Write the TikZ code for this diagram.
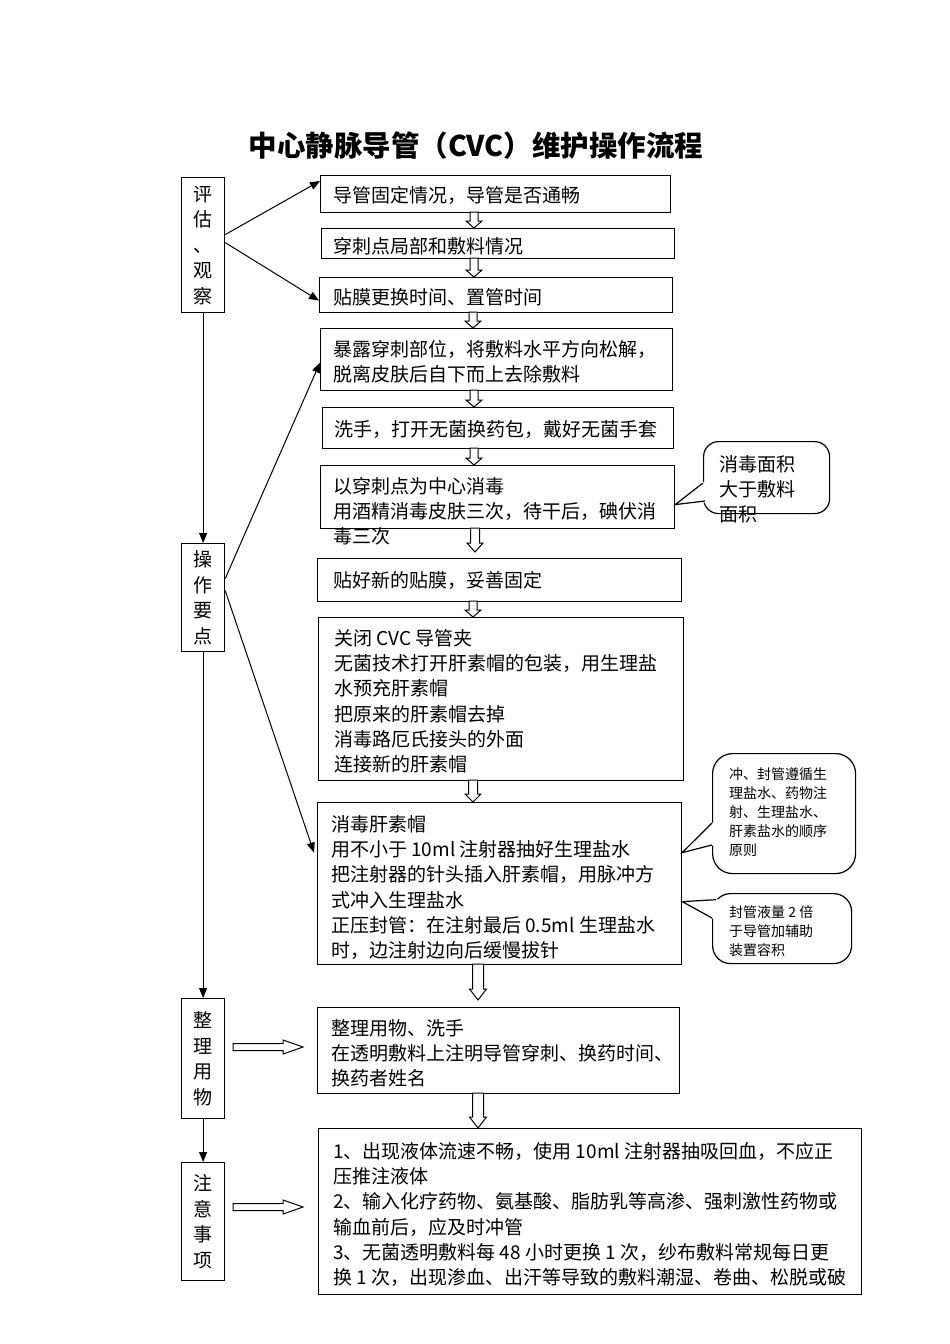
\documentclass[tikz,border=0pt]{standalone}
\usepackage{fontspec}
\setmainfont{Noto Sans CJK SC}
\usetikzlibrary{arrows.meta}
\tikzset{
 box/.style={draw, line width=1.2pt, inner sep=0pt, anchor=north west},
 lbox/.style={draw, line width=1.2pt, inner sep=0pt, anchor=north west, minimum width=43pt, align=center, font=\fontsize{19pt}{25.5pt}\selectfont},
 txt/.style={inner sep=0pt, anchor=north west, align=left, font=\fontsize{19pt}{25.3pt}\selectfont},
 stxt/.style={inner sep=0pt, anchor=north west, align=left, font=\fontsize{14pt}{19.2pt}\selectfont},
 arr/.style={line width=1pt, -{Triangle[length=10pt,width=8pt]}},
 callout/.style={draw, line width=1.2pt, inner sep=0pt, anchor=north west},
 hollow/.style={draw, line width=1pt, fill=white},
 wedge/.style={line width=1.2pt},
}
% vertical hollow arrow: x, ytop, ybot, shaft half, head half, head length
\newcommand\vholl[6]{\draw[hollow] ({#1-#4},#2) -- ({#1-#4},{#3-#6}) -- ({#1-#5},{#3-#6}) -- (#1,#3) -- ({#1+#5},{#3-#6}) -- ({#1+#4},{#3-#6}) -- ({#1+#4},#2) -- cycle;}
% horizontal hollow arrow: y, xleft, xright, shaft half, head half, head length
\newcommand\hholl[6]{\draw[hollow] (#2,{#1-#4}) -- ({#3-#6},{#1-#4}) -- ({#3-#6},{#1-#5}) -- (#3,#1) -- ({#3-#6},{#1+#5}) -- ({#3-#6},{#1+#4}) -- (#2,{#1+#4}) -- cycle;}
\begin{document}
\begin{tikzpicture}[x=1pt,y=-1pt]
\fill[white] (0,0) rectangle (950,1344);
\useasboundingbox (0,0) rectangle (950,1344);

% title
\node[font=\fontsize{28.5pt}{32pt}\selectfont\bfseries] (title) at (476,146) {中心静脉导管（CVC）维护操作流程};

% left column
\node[lbox, minimum height=135pt] (l1) at (181,177) {评\\估\\、\\观\\察};
\node[lbox, minimum height=108pt] (l2) at (181,543) {操\\作\\要\\点};
\node[lbox, minimum height=120pt] (l3) at (181,998) {整\\理\\用\\物};
\node[lbox, minimum height=118pt] (l4) at (181,1162) {注\\意\\事\\项};

% right boxes
\node[box, minimum width=350pt, minimum height=37pt] (b1) at (320,175) {};
\node[box, minimum width=353pt, minimum height=30pt] (b2) at (321,228) {};
\node[box, minimum width=353pt, minimum height=35pt] (b3) at (319,277) {};
\node[box, minimum width=352pt, minimum height=62pt] (b4) at (320,328) {};
\node[box, minimum width=351pt, minimum height=41pt] (b5) at (322,407) {};
\node[box, minimum width=354pt, minimum height=63pt] (b6) at (320,465) {};
\node[box, minimum width=364pt, minimum height=43pt] (b7) at (317,558) {};
\node[box, minimum width=365pt, minimum height=163pt] (b8) at (318,617) {};
\node[box, minimum width=364pt, minimum height=162pt] (b9) at (317,802) {};
\node[box, minimum width=362pt, minimum height=86pt] (b10) at (317,1007) {};
\node[box, minimum width=543pt, minimum height=166pt] (b11) at (318,1128) {};

% hollow arrows between boxes
\vholl{474}{212}{228}{4}{8}{7}
\vholl{474}{258}{277}{4}{8}{7}
\vholl{473}{312}{328}{4}{8}{7}
\vholl{474}{390}{407}{4}{8}{7}
\vholl{474}{448}{465}{4}{8}{7}
\vholl{475}{528}{552}{4.5}{8}{9}
\vholl{473}{601}{617}{4}{8}{7}
\vholl{473}{780}{802}{4.5}{8}{8}
\vholl{478}{964}{1000}{5.5}{8.5}{11}
\vholl{478}{1093}{1128}{5.5}{8.5}{11}
\hholl{1047}{233}{303}{3.5}{7}{20}
\hholl{1207}{233}{303}{3.5}{7}{20}

% line connectors
\draw[arr] (l1.south) -- (l2.north);
\draw[arr] (l2.south) -- (l3.north);
\draw[arr] (l3.south) -- (l4.north);
\draw[arr] ([yshift=10.5pt]l1.east) -- ([yshift=-6pt]b1.north west);
\draw[arr] ([yshift=2.5pt]l1.east) -- ([yshift=-5.5pt]b3.west);
\draw[arr] ([yshift=19pt]l2.east) -- ([yshift=-3pt]b4.west);
\draw[arr] ([yshift=7pt]l2.east) -- ([xshift=-3pt,yshift=31pt]b9.west);

% callouts
\node[callout, rounded corners=15pt, minimum width=126pt, minimum height=72pt] (c1) at (703,441) {};
\coordinate (p1) at ([yshift=-7.5pt]b6.east);
\coordinate (q1a) at (703,483);
\coordinate (q1b) at (705,501);
\fill[white] (p1) -- (703,482) -- (712,482) -- (712,502.5) -- (705,502.5) -- cycle;
\draw[wedge] (q1a) -- (p1) -- (q1b);

\node[callout, rounded corners=20pt, minimum width=143pt, minimum height=120pt] (c2) at (712,753) {};
\coordinate (p2) at ([yshift=31pt]b9.east);
\coordinate (q2a) at (712,823);
\coordinate (q2b) at (712,845);
\fill[white] (p2) -- (712,822.5) -- (717,822.5) -- (717,845.5) -- (712,845.5) -- cycle;
\draw[wedge] (q2a) -- (p2) -- (q2b);

\node[callout, rounded corners=18pt, minimum width=139pt, minimum height=70pt] (c3) at (712,893) {};
\coordinate (p3) at ([yshift=-18pt]b9.east);
\coordinate (q3a) at (716,899.7);
\coordinate (q3b) at (712,918);
\fill[white] (p3) -- (716,899.4) -- (720,899.4) -- (720,918.5) -- (712,918.5) -- cycle;
\draw[wedge] (q3a) -- (p3) -- (q3b);

% texts
\node[txt] (t1) at (333,186) {导管固定情况，导管是否通畅};
\node[txt] (t2) at (333,237) {穿刺点局部和敷料情况};
\node[txt] (t3) at (333,288) {贴膜更换时间、置管时间};
\node[txt] (t4) at (333,340) {暴露穿刺部位，将敷料水平方向松解，\\脱离皮肤后自下而上去除敷料};
\node[txt] (t5) at (334,420) {洗手，打开无菌换药包，戴好无菌手套};
\node[txt] (t6) at (333,477) {以穿刺点为中心消毒\\用酒精消毒皮肤三次，待干后，碘伏消\\毒三次};
\node[txt] (t7) at (333,571) {贴好新的贴膜，妥善固定};
\node[txt] (t8) at (334,629) {关闭 CVC 导管夹\\无菌技术打开肝素帽的包装，用生理盐\\水预充肝素帽\\把原来的肝素帽去掉\\消毒路厄氏接头的外面\\连接新的肝素帽};
\node[txt] (t9) at (331,815) {消毒肝素帽\\用不小于 10ml 注射器抽好生理盐水\\把注射器的针头插入肝素帽，用脉冲方\\式冲入生理盐水\\正压封管：在注射最后 0.5ml 生理盐水\\时，边注射边向后缓慢拔针};
\node[txt] (t10) at (331,1019) {整理用物、洗手\\在透明敷料上注明导管穿刺、换药时间、\\换药者姓名};
\node[txt] (t11) at (333,1142) {1、出现液体流速不畅，使用 10ml 注射器抽吸回血，不应正\\压推注液体\\2、输入化疗药物、氨基酸、脂肪乳等高渗、强刺激性药物或\\输血前后，应及时冲管\\3、无菌透明敷料每 48 小时更换 1 次，纱布敷料常规每日更\\换 1 次，出现渗血、出汗等导致的敷料潮湿、卷曲、松脱或破};
\node[txt, font=\fontsize{19pt}{25pt}\selectfont] (tc1) at (719,455) {消毒面积\\大于敷料\\面积};
\node[stxt] (tc2) at (729,767) {冲、封管遵循生\\理盐水、药物注\\射、生理盐水、\\肝素盐水的顺序\\原则};
\node[stxt, font=\fontsize{14pt}{19pt}\selectfont] (tc3) at (729,905) {封管液量 2 倍\\于导管加辅助\\装置容积};
\end{tikzpicture}
\end{document}
